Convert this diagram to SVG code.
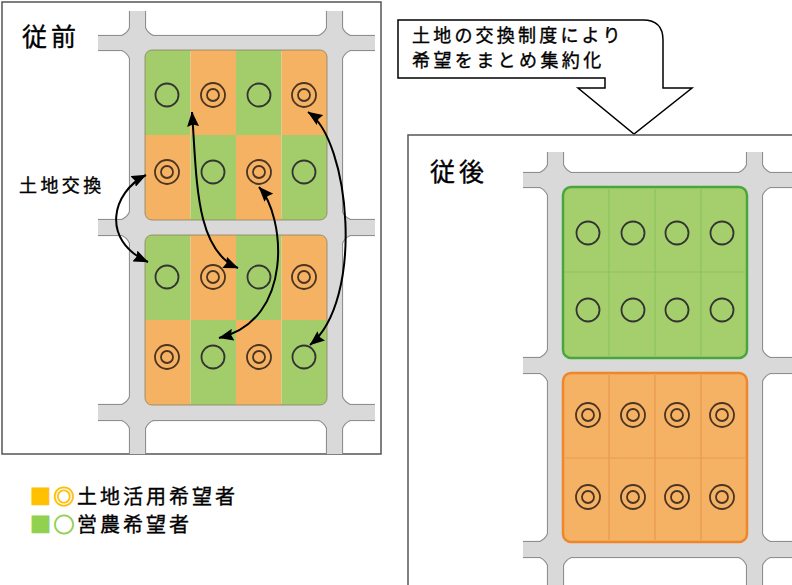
<svg xmlns="http://www.w3.org/2000/svg" xmlns:xlink="http://www.w3.org/1999/xlink" width="792" height="585" viewBox="0 0 792 585">
<style>
  text { font-family: "Noto Sans CJK JP", "Noto Sans", sans-serif; fill: #000; stroke: #000; stroke-width: 0.35; }
  .panel { fill: #fff; stroke: #555; stroke-width: 1.5; }
  .rs { fill: #d9d9d9; stroke: #8f8f8f; stroke-width: 2.2; }
  .rf { fill: #d9d9d9; stroke: none; }
  .g { fill: #a2cd6a; }
  .o { fill: #f5b263; }
  .c1 { fill: none; stroke: #333; stroke-width: 1.8; }
  .c2 { fill: none; stroke: #4a3422; stroke-width: 1.8; }
  .blk { fill: none; stroke: #8c8060; stroke-width: 0.8; }
  .arr { fill: none; stroke: #000; stroke-width: 2; marker-start: url(#ah); marker-end: url(#ah); }
</style>
<defs>
  <marker id="ah" viewBox="0 0 15 12" refX="14.5" refY="6" markerWidth="15" markerHeight="12" markerUnits="userSpaceOnUse" orient="auto-start-reverse">
    <path d="M0,0 L15,6 L0,12 L2,6 Z" fill="#000"/>
  </marker>
  <g id="circ1"><circle r="11.5" class="c1"/></g>
  <g id="circ2"><circle r="12" class="c2"/><circle r="6" class="c2"/></g>
  <g id="roadsL">
    <rect x="130" y="0" width="15" height="460"/>
    <rect x="327" y="0" width="15" height="460"/>
    <rect x="90" y="36" width="290" height="14"/>
    <rect x="90" y="220" width="290" height="15"/>
    <rect x="90" y="405" width="290" height="15"/>
    <path d="M122,36 Q127.5,33.5 130,28 L130,36Z M145,28 Q147.5,33.5 153,36 L145,36Z M153,50 Q147.5,52.5 145,58 L145,50Z M130,58 Q127.5,52.5 122,50 L130,50Z"/>
    <path d="M319,36 Q324.5,33.5 327,28 L327,36Z M342,28 Q344.5,33.5 350,36 L342,36Z M350,50 Q344.5,52.5 342,58 L342,50Z M327,58 Q324.5,52.5 319,50 L327,50Z"/>
    <path d="M122,220 Q127.5,217.5 130,212 L130,220Z M145,212 Q147.5,217.5 153,220 L145,220Z M153,235 Q147.5,237.5 145,243 L145,235Z M130,243 Q127.5,237.5 122,235 L130,235Z"/>
    <path d="M319,220 Q324.5,217.5 327,212 L327,220Z M342,212 Q344.5,217.5 350,220 L342,220Z M350,235 Q344.5,237.5 342,243 L342,235Z M327,243 Q324.5,237.5 319,235 L327,235Z"/>
    <path d="M122,405 Q127.5,402.5 130,397 L130,405Z M145,397 Q147.5,402.5 153,405 L145,405Z M153,420 Q147.5,422.5 145,428 L145,420Z M130,428 Q127.5,422.5 122,420 L130,420Z"/>
    <path d="M319,405 Q324.5,402.5 327,397 L327,405Z M342,397 Q344.5,402.5 350,405 L342,405Z M350,420 Q344.5,422.5 342,428 L342,420Z M327,428 Q324.5,422.5 319,420 L327,420Z"/>
  </g>
  <g id="roadsR">
    <rect x="548" y="140" width="15" height="460"/>
    <rect x="747" y="140" width="15" height="460"/>
    <rect x="515" y="173" width="290" height="14"/>
    <rect x="515" y="358" width="290" height="15"/>
    <rect x="515" y="542" width="290" height="15"/>
    <path d="M540,173 Q545.5,170.5 548,165 L548,173Z M563,165 Q565.5,170.5 571,173 L563,173Z M571,187 Q565.5,189.5 563,195 L563,187Z M548,195 Q545.5,189.5 540,187 L548,187Z"/>
    <path d="M739,173 Q744.5,170.5 747,165 L747,173Z M762,165 Q764.5,170.5 770,173 L762,173Z M770,187 Q764.5,189.5 762,195 L762,187Z M747,195 Q744.5,189.5 739,187 L747,187Z"/>
    <path d="M540,358 Q545.5,355.5 548,350 L548,358Z M563,350 Q565.5,355.5 571,358 L563,358Z M571,373 Q565.5,375.5 563,381 L563,373Z M548,381 Q545.5,375.5 540,373 L548,373Z"/>
    <path d="M739,358 Q744.5,355.5 747,350 L747,358Z M762,350 Q764.5,355.5 770,358 L762,358Z M770,373 Q764.5,375.5 762,381 L762,373Z M747,381 Q744.5,375.5 739,373 L747,373Z"/>
    <path d="M540,542 Q545.5,539.5 548,534 L548,542Z M563,534 Q565.5,539.5 571,542 L563,542Z M571,557 Q565.5,559.5 563,565 L563,557Z M548,565 Q545.5,559.5 540,557 L548,557Z"/>
    <path d="M739,542 Q744.5,539.5 747,534 L747,542Z M762,534 Q764.5,539.5 770,542 L762,542Z M770,557 Q764.5,559.5 762,565 L762,557Z M747,565 Q744.5,559.5 739,557 L747,557Z"/>
  </g>
  <clipPath id="clipL"><rect x="98" y="11" width="277" height="443"/></clipPath>
  <clipPath id="clipR"><rect x="523" y="152" width="280" height="440"/></clipPath>
  <clipPath id="bTop"><rect x="145" y="50" width="182" height="170" rx="7"/></clipPath>
  <clipPath id="bBot"><rect x="145" y="235" width="182" height="170" rx="7"/></clipPath>
</defs>

<g id="before-panel">
  <rect class="panel" x="2" y="2" width="379" height="452"/>
  <g clip-path="url(#clipL)">
    <use xlink:href="#roadsL" class="rs"/>
    <use xlink:href="#roadsL" class="rf"/>
  </g>
  <g id="block-top" clip-path="url(#bTop)">
    <rect class="g" x="145" y="50" width="45.5" height="85"/>
    <rect class="o" x="190.5" y="50" width="45.5" height="85"/>
    <rect class="g" x="236" y="50" width="45.5" height="85"/>
    <rect class="o" x="281.5" y="50" width="45.5" height="85"/>
    <rect class="o" x="145" y="135" width="45.5" height="85"/>
    <rect class="g" x="190.5" y="135" width="45.5" height="85"/>
    <rect class="o" x="236" y="135" width="45.5" height="85"/>
    <rect class="g" x="281.5" y="135" width="45.5" height="85"/>
  </g>
  <rect class="blk" x="145" y="50" width="182" height="170" rx="7"/>
  <g id="block-bottom" clip-path="url(#bBot)">
    <rect class="g" x="145" y="235" width="45.5" height="85"/>
    <rect class="o" x="190.5" y="235" width="45.5" height="85"/>
    <rect class="g" x="236" y="235" width="45.5" height="85"/>
    <rect class="o" x="281.5" y="235" width="45.5" height="85"/>
    <rect class="o" x="145" y="320" width="45.5" height="85"/>
    <rect class="g" x="190.5" y="320" width="45.5" height="85"/>
    <rect class="o" x="236" y="320" width="45.5" height="85"/>
    <rect class="g" x="281.5" y="320" width="45.5" height="85"/>
  </g>
  <rect class="blk" x="145" y="235" width="182" height="170" rx="7"/>
  <g id="marks-before">
    <use xlink:href="#circ1" x="167" y="95"/>
    <use xlink:href="#circ2" x="213" y="95"/>
    <use xlink:href="#circ1" x="259" y="95"/>
    <use xlink:href="#circ2" x="304" y="95"/>
    <use xlink:href="#circ2" x="167" y="172"/>
    <use xlink:href="#circ1" x="213" y="172"/>
    <use xlink:href="#circ2" x="259" y="172"/>
    <use xlink:href="#circ1" x="304" y="172"/>
    <use xlink:href="#circ1" x="167" y="277"/>
    <use xlink:href="#circ2" x="213" y="277"/>
    <use xlink:href="#circ1" x="259" y="277"/>
    <use xlink:href="#circ2" x="304" y="277"/>
    <use xlink:href="#circ2" x="167" y="357"/>
    <use xlink:href="#circ1" x="213" y="357"/>
    <use xlink:href="#circ2" x="259" y="357"/>
    <use xlink:href="#circ1" x="304" y="357"/>
  </g>
  <text x="22" y="46" font-size="25" letter-spacing="4">従前</text>
  <text x="19" y="192" font-size="18" letter-spacing="3.4">土地交換</text>
</g>

<g id="connectors">
  <path class="arr" d="M146,175 C112,192 100,240 148,262"/>
  <path class="arr" d="M192,112 C197,180 195,250 238,268"/>
  <path class="arr" d="M259,187 C285,215 295,320 219,338"/>
  <path class="arr" d="M308,112 C350,140 365,300 310,345"/>
</g>

<g id="callout">
  <path d="M398,20 L643,20 Q663,20 663,40 L663,88 L692,88 L634,134 L578,88 L605,88 L605,78 L398,78 Z" fill="#fff" stroke="#000" stroke-width="1.5" stroke-linejoin="miter"/>
  <text x="412" y="42" font-size="18" letter-spacing="3.2">土地の交換制度により</text>
  <text x="412" y="67" font-size="18" letter-spacing="3.4">希望をまとめ集約化</text>
</g>

<g id="after-panel">
  <rect class="panel" x="408" y="135" width="400" height="460"/>
  <g clip-path="url(#clipR)">
    <use xlink:href="#roadsR" class="rs"/>
    <use xlink:href="#roadsR" class="rf"/>
  </g>
  <g id="block-green">
    <rect x="563" y="187" width="184" height="171" rx="8" fill="#a5cf6c" stroke="#4aa63c" stroke-width="2.5"/>
    <path d="M609,189 V356 M655,189 V356 M701,189 V356 M565,272 H745" stroke="#8cc35a" stroke-width="1.2" fill="none"/>
  </g>
  <g id="block-orange">
    <rect x="563" y="373" width="184" height="169" rx="8" fill="#f5b264" stroke="#f0862a" stroke-width="2.5"/>
    <path d="M609,375 V540 M655,375 V540 M701,375 V540 M565,458 H745" stroke="#e89a4c" stroke-width="1.2" fill="none"/>
  </g>
  <g id="marks-after">
    <use xlink:href="#circ1" x="588" y="233"/>
    <use xlink:href="#circ1" x="633" y="233"/>
    <use xlink:href="#circ1" x="677" y="233"/>
    <use xlink:href="#circ1" x="722" y="233"/>
    <use xlink:href="#circ1" x="588" y="310"/>
    <use xlink:href="#circ1" x="633" y="310"/>
    <use xlink:href="#circ1" x="677" y="310"/>
    <use xlink:href="#circ1" x="722" y="310"/>
    <use xlink:href="#circ2" x="588" y="415"/>
    <use xlink:href="#circ2" x="633" y="415"/>
    <use xlink:href="#circ2" x="677" y="415"/>
    <use xlink:href="#circ2" x="722" y="415"/>
    <use xlink:href="#circ2" x="588" y="497"/>
    <use xlink:href="#circ2" x="633" y="497"/>
    <use xlink:href="#circ2" x="677" y="497"/>
    <use xlink:href="#circ2" x="722" y="497"/>
  </g>
  <text x="430" y="181" font-size="25" letter-spacing="4">従後</text>
</g>

<g id="legend">
  <text x="30" y="504" font-size="20" letter-spacing="3"><tspan fill="#ffc000" stroke="#ffc000" stroke-width="0.9" font-size="21" letter-spacing="2.5">■◎</tspan>土地活用希望者</text>
  <text x="30" y="532" font-size="20" letter-spacing="3"><tspan fill="#92d050" stroke="#92d050" stroke-width="0.9" font-size="21" letter-spacing="2.5">■○</tspan>営農希望者</text>
</g>
</svg>
